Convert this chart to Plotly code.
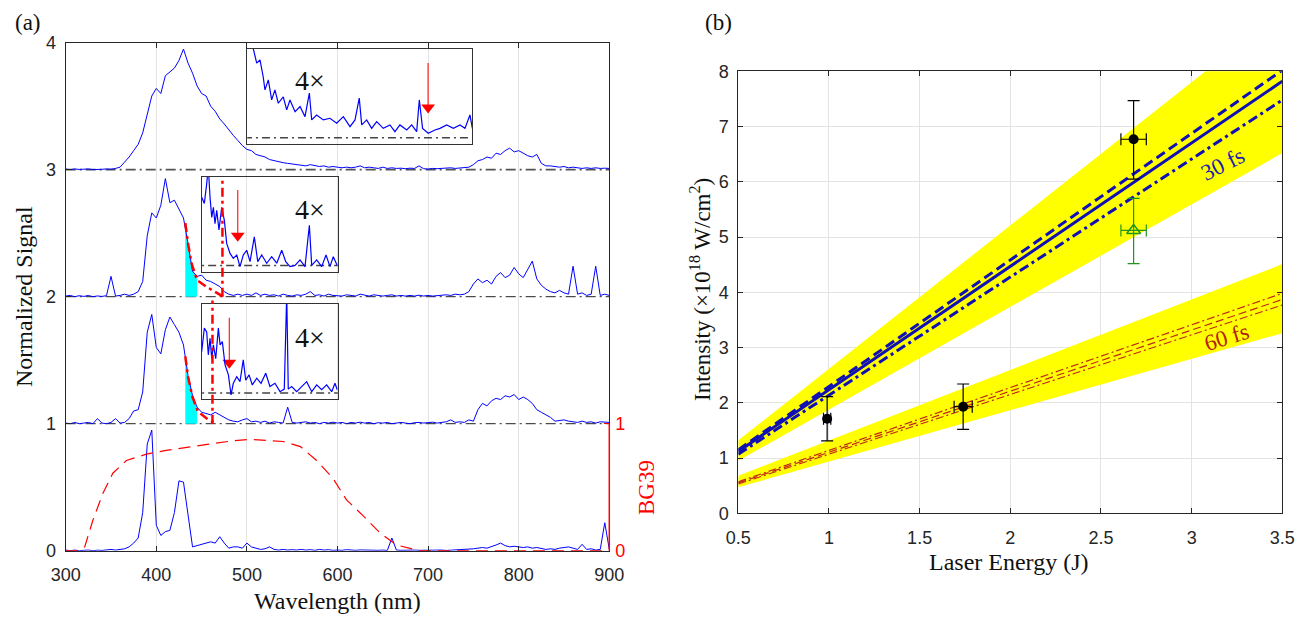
import plotly.graph_objects as go

W, H = 1298, 621

# ---------------- Panel (a) data ----------------
WAVELENGTH_NM = list(range(300, 905, 5))
SPEC_OFFSETS = [3, 2, 1, 0]

SPEC_3 = [
    0.005, 0.000, 0.006, 0.002, 0.004, 0.006, 0.001, 0.005, 0.003, 0.006,
    0.004, 0.010, 0.020, 0.060, 0.100, 0.150, 0.200, 0.290, 0.430, 0.580,
    0.640, 0.600, 0.740, 0.770, 0.800, 0.860, 0.950, 0.840, 0.760, 0.660,
    0.600, 0.580, 0.500, 0.460, 0.400, 0.360, 0.310, 0.270, 0.230, 0.190,
    0.160, 0.150, 0.120, 0.110, 0.100, 0.080, 0.070, 0.060, 0.055, 0.050,
    0.045, 0.040, 0.035, 0.030, 0.040, 0.030, 0.025, 0.030, 0.020, 0.025,
    0.020, 0.015, 0.020, 0.015, 0.020, 0.030, 0.015, 0.020, 0.015, 0.010,
    0.020, 0.010, 0.015, 0.010, 0.012, 0.008, 0.012, 0.010, 0.030, 0.008,
    0.005, 0.010, 0.008, 0.012, 0.010, 0.015, 0.010, 0.012, 0.015, 0.020,
    0.040, 0.070, 0.080, 0.100, 0.090, 0.130, 0.120, 0.150, 0.170, 0.140,
    0.150, 0.130, 0.110, 0.100, 0.120, 0.050, 0.030, 0.030, 0.025, 0.020,
    0.025, 0.015, 0.020, 0.015, 0.010, 0.015, 0.010, 0.015, 0.010, 0.012,
    0.010]
SPEC_2 = [
    0.005, 0.010, 0.000, 0.008, 0.002, 0.010, 0.000, 0.006, 0.002, 0.008,
    0.160, 0.005, 0.010, 0.020, 0.010, 0.020, 0.040, 0.120, 0.480, 0.660,
    0.620, 0.720, 0.930, 0.740, 0.760, 0.690, 0.620, 0.420, 0.200, 0.160,
    0.170, 0.130, 0.120, 0.100, 0.080, 0.040, 0.020, 0.010, 0.020, 0.010,
    0.020, 0.010, 0.030, 0.010, 0.020, 0.010, 0.015, 0.005, 0.020, 0.010,
    0.005, 0.015, 0.010, 0.020, 0.040, 0.010, 0.015, 0.005, 0.020, 0.010,
    0.010, 0.005, 0.015, 0.010, 0.005, 0.020, 0.010, 0.005, 0.015, 0.010,
    0.005, 0.010, 0.015, 0.005, 0.010, 0.005, 0.010, 0.005, 0.012, 0.005,
    0.010, 0.005, 0.008, 0.010, 0.015, 0.010, 0.020, 0.015, 0.020, 0.040,
    0.100, 0.140, 0.110, 0.130, 0.100, 0.160, 0.190, 0.150, 0.170, 0.230,
    0.180, 0.150, 0.210, 0.280, 0.140, 0.090, 0.060, 0.040, 0.030, 0.050,
    0.030, 0.020, 0.240, 0.020, 0.030, 0.010, 0.020, 0.240, 0.010, 0.020,
    0.010]
SPEC_1 = [
    0.005, 0.000, 0.010, 0.000, 0.005, 0.010, 0.000, 0.040, 0.005, 0.000,
    0.010, 0.040, 0.005, 0.010, 0.040, 0.100, 0.110, 0.250, 0.720, 0.860,
    0.600, 0.550, 0.740, 0.840, 0.780, 0.720, 0.620, 0.380, 0.220, 0.130,
    0.090, 0.080, 0.070, 0.090, 0.070, 0.050, 0.030, 0.020, 0.015, 0.030,
    0.040, 0.015, 0.020, 0.010, 0.020, 0.005, 0.015, 0.010, 0.005, 0.130,
    0.010, 0.005, 0.010, 0.015, 0.005, 0.010, 0.000, 0.010, 0.005, 0.012,
    0.005, 0.010, 0.000, 0.010, 0.005, 0.012, 0.005, 0.010, 0.000, 0.008,
    0.005, 0.010, 0.000, 0.005, 0.010, 0.005, 0.000, 0.008, 0.010, 0.005,
    0.010, 0.012, 0.005, 0.010, 0.015, 0.030, 0.010, 0.015, 0.010, 0.030,
    0.020, 0.110, 0.160, 0.140, 0.180, 0.200, 0.190, 0.220, 0.210, 0.230,
    0.190, 0.210, 0.190, 0.160, 0.110, 0.090, 0.070, 0.050, 0.020, 0.025,
    0.030, 0.020, 0.015, 0.010, 0.020, 0.010, 0.015, 0.005, 0.015, 0.010,
    0.010]
SPEC_0 = [
    0.005, 0.000, 0.005, 0.000, 0.003, 0.005, 0.000, 0.004, 0.002, 0.005,
    0.010, 0.005, 0.010, 0.015, 0.030, 0.060, 0.100, 0.300, 0.840, 0.950,
    0.200, 0.120, 0.150, 0.160, 0.300, 0.550, 0.540, 0.290, 0.030, 0.040,
    0.050, 0.060, 0.070, 0.060, 0.110, 0.060, 0.020, 0.030, 0.030, 0.020,
    0.060, 0.030, 0.020, 0.010, 0.015, 0.030, 0.010, 0.005, 0.010, 0.005,
    0.008, 0.005, 0.010, 0.005, 0.008, 0.003, 0.010, 0.005, 0.008, 0.003,
    0.005, 0.003, 0.008, 0.005, 0.003, 0.006, 0.004, 0.002, 0.005, 0.003,
    0.005, 0.002, 0.100, 0.005, 0.003, 0.005, 0.002, 0.005, 0.003, 0.004,
    0.002, 0.005, 0.003, 0.005, 0.002, 0.004, 0.006, 0.003, 0.005, 0.010,
    0.015, 0.020, 0.025, 0.020, 0.030, 0.045, 0.060, 0.040, 0.030, 0.035,
    0.030, 0.025, 0.030, 0.020, 0.025, 0.015, 0.010, 0.015, 0.010, 0.020,
    0.025, 0.030, 0.020, 0.010, 0.050, 0.010, 0.015, 0.005, 0.010, 0.220,
    0.010]
SPECTRA = [SPEC_3, SPEC_2, SPEC_1, SPEC_0]

# BG39 filter transmission (right axis)
BG39_WL = [300, 312, 321, 330, 341, 352, 367, 389, 411, 448, 485, 503, 522,
           540, 559, 577, 595, 610, 629, 647, 665, 680, 691, 900]
BG39_T = [0.0, 0.0, 0.03, 0.24, 0.45, 0.61, 0.71, 0.76, 0.79, 0.83, 0.866,
          0.877, 0.87, 0.86, 0.82, 0.71, 0.57, 0.40, 0.27, 0.14, 0.045, 0.02,
          0.0, 0.0]

# cut-off fits (red dash-dot) and shaded region (cyan)
FIT2_WL = [432, 435, 439, 445, 455, 466, 474]
FIT2 = [0.58, 0.42, 0.26, 0.13, 0.08, 0.03, 0.0]
FIT1_WL = [432, 435, 440, 446, 456, 463]
FIT1 = [0.53, 0.37, 0.21, 0.095, 0.04, 0.01]
CYAN_WL = [432, 435, 440, 445]
CYAN2_TOP = [0.57, 0.42, 0.21, 0.14]
CYAN1_TOP = [0.53, 0.37, 0.21, 0.12]
CUTOFF_WL = [473, 462]      # vertical red lines (spectrum 2, spectrum 1)
CUTOFF_TOP = [2.94, 1.97]
CUTOFF_BASE = [2, 1]

# insets (4x magnified, relative to baseline)
INSET3_WL = [500.5, 505, 510.9, 514.5, 518, 520, 523.7, 527.4, 531, 534.7, 540.2,
             544, 547.6, 553.2, 558.7, 564.2, 569, 571.6, 577, 584.4, 591.8, 599.2,
             606.5, 613.9, 619.4, 624.1, 626.8, 632.3, 637.8, 643.3, 650.6, 658,
             663.5, 669, 676.5, 682, 687.5, 690.4, 694, 700.3, 707.7, 713.2, 720.6,
             728, 735.3, 740.8, 746.3, 749]
INSET3_Y = [0.78, 0.76, 0.585, 0.61, 0.48, 0.375, 0.454, 0.296, 0.375, 0.27, 0.32,
            0.218, 0.296, 0.204, 0.244, 0.165, 0.35, 0.139, 0.178, 0.139, 0.152,
            0.113, 0.165, 0.086, 0.139, 0.31, 0.10, 0.139, 0.073, 0.126, 0.073,
            0.10, 0.047, 0.10, 0.06, 0.10, 0.047, 0.296, 0.073, 0.034, 0.06, 0.073,
            0.10, 0.073, 0.10, 0.073, 0.178, 0.073]
INSET2_WL = [450.1, 453, 455.6, 457.4, 459.3, 461.2, 463, 464.8, 466.7, 469.2,
             472.2, 475.1, 477.7, 481.4, 485, 488.8, 492.4, 496, 499.8, 503.5,
             508.2, 512, 516.4, 521.9, 527.4, 533, 538.5, 542.9, 547.6, 553.2,
             558.7, 564.2, 569, 571.6, 577.1, 582.6, 587.4, 591.8, 595.4, 599.8]
INSET2_Y = [0.54, 0.49, 0.646, 0.78, 0.54, 0.38, 0.46, 0.33, 0.436, 0.28, 0.46,
            0.357, 0.174, 0.095, 0.056, 0.082, -0.01, 0.082, 0.12, 0.03, 0.226,
            0.03, 0.082, 0.017, 0.069, 0.017, 0.12, 0.03, -0.01, 0.0, 0.043, -0.01,
            0.318, 0.0, 0.043, -0.01, 0.082, -0.01, 0.069, 0.0]
INSET1_WL = [450.1, 453, 455.6, 457.4, 459.3, 461.2, 463, 465.6, 468.5, 470.4,
             472.9, 475.9, 479.6, 482.5, 485, 488.8, 492.4, 496, 498.7, 502.4, 506,
             510.9, 515.6, 520.8, 525.5, 531, 536.6, 541.3, 544, 545.7, 549.5, 555,
             560.5, 566, 571.6, 577.1, 582.6, 588.1, 593.7, 597.3, 599.8]
INSET1_Y = [0.325, 0.51, 0.48, 0.30, 0.43, 0.27, 0.378, 0.27, 0.51, 0.378, 0.404,
            0.22, 0.142, -0.016, 0.076, 0.128, 0.089, 0.26, 0.10, 0.142, 0.063,
            0.116, 0.076, 0.155, 0.05, 0.076, 0.01, 0.03, 0.78, 0.03, 0.05, 0.01,
            0.05, 0.089, 0.01, 0.063, 0.025, 0.063, 0.01, 0.076, 0.025]
ARROW_WL = [700, 489.9, 480.6]
ARROW_TAIL = [3.84, 2.84, 1.835]
ARROW_TIP = [3.45, 2.44, 1.44]

# ---------------- Panel (b) data ----------------
E_FIT = [0.5, 3.5]
I30_UP = [1.15, 8.02]
I30_MID = [1.12, 7.82]
I30_LO = [1.07, 7.48]
I30_BAND_LO = [0.95, 6.52]
I30_BAND_HI = [1.32, 9.10]
I60_UP = [0.57, 3.98]
I60_MID = [0.55, 3.87]
I60_LO = [0.53, 3.77]
I60_BAND_LO = [0.47, 3.26]
I60_BAND_HI = [0.68, 4.51]

PT_E = [0.99, 1.74, 2.68]
PT_I = [1.71, 1.93, 6.77]
PT_I_PLUS = [0.40, 0.41, 0.70]
PT_I_MINUS = [0.40, 0.41, 0.72]
PT_E_ERR = [0.02, 0.05, 0.07]
TRI_E = [2.68]
TRI_I = [5.12]
TRI_I_PLUS = [0.58]
TRI_I_MINUS = [0.60]
TRI_E_ERR = [0.07]

# ---------------- figure ----------------
SANS = "Liberation Sans, Arial, sans-serif"
SERIF = "Liberation Serif, Times New Roman, serif"
AX = "#262626"
BLUE = "#0000FF"
DB = "#1010B4"
DR = "#C0281A"
PX_PER_UNIT_A = 127.0   # main panel (a) pixels per signal unit

fig = go.Figure()

# baselines
for off, col, w in [(3, "#555555", 1.8), (2, "#222222", 1.0), (1, "#222222", 1.0)]:
    fig.add_trace(go.Scatter(x=[300, 900], y=[off, off], mode="lines",
                             line=dict(color=col, width=w, dash="10px,4px,2px,4px"),
                             xaxis="x", yaxis="y", hoverinfo="skip"))

# cyan shaded regions
for top, off in [(CYAN2_TOP, 2), (CYAN1_TOP, 1)]:
    xs = [CYAN_WL[0]] + CYAN_WL + [CYAN_WL[-1]]
    ys = [off] + [v + off for v in top] + [off]
    fig.add_trace(go.Scatter(x=xs, y=ys, mode="lines", fill="toself",
                             fillcolor="#00FFFF", line=dict(width=0),
                             xaxis="x", yaxis="y", hoverinfo="skip"))

# spectra
for spec, off in zip(SPECTRA, SPEC_OFFSETS):
    fig.add_trace(go.Scatter(x=WAVELENGTH_NM, y=[v + off for v in spec], mode="lines",
                             line=dict(color=BLUE, width=1),
                             xaxis="x", yaxis="y", hoverinfo="skip"))

# fits
for fx, fy, off in [(FIT2_WL, FIT2, 2), (FIT1_WL, FIT1, 1)]:
    fig.add_trace(go.Scatter(x=fx, y=[v + off for v in fy], mode="lines",
                             line=dict(color="#FF0000", width=2.5, dash="9px,4px,3px,4px"),
                             xaxis="x", yaxis="y", hoverinfo="skip"))

# BG39 on right axis
fig.add_trace(go.Scatter(x=BG39_WL, y=BG39_T, mode="lines",
                         line=dict(color="#FF0000", width=1.2, dash="12px,7px"),
                         xaxis="x", yaxis="y2", hoverinfo="skip"))

# insets
for wl, yy, ax_id in [(INSET3_WL, INSET3_Y, "4"), (INSET2_WL, INSET2_Y, "5"),
                      (INSET1_WL, INSET1_Y, "6")]:
    fig.add_trace(go.Scatter(x=[0, 1000], y=[0, 0], mode="lines",
                             line=dict(color="#444444", width=1.5, dash="8px,4px,2px,4px"),
                             xaxis="x" + ax_id, yaxis="y" + ax_id, hoverinfo="skip"))
    fig.add_trace(go.Scatter(x=wl, y=yy, mode="lines", line=dict(color=BLUE, width=1.2),
                             xaxis="x" + ax_id, yaxis="y" + ax_id, hoverinfo="skip"))

# red arrows (shaft + triangular head)
for xw, tail, tip in zip(ARROW_WL, ARROW_TAIL, ARROW_TIP):
    fig.add_trace(go.Scatter(x=[xw, xw], y=[tail, tip + 6 / PX_PER_UNIT_A], mode="lines",
                             line=dict(color="#FF2020", width=1.2),
                             xaxis="x", yaxis="y", hoverinfo="skip"))
    fig.add_trace(go.Scatter(x=[xw], y=[tip + 5 / PX_PER_UNIT_A], mode="markers",
                             marker=dict(symbol="triangle-down", size=12, color="#FF0000",
                                         line=dict(width=0)),
                             xaxis="x", yaxis="y", hoverinfo="skip"))

# ---- panel (b) ----
def band(lo, hi):
    return go.Scatter(x=E_FIT + E_FIT[::-1], y=lo + hi[::-1], mode="lines", fill="toself",
                      fillcolor="#FFFF00", line=dict(width=0), xaxis="x3", yaxis="y3",
                      hoverinfo="skip")

fig.add_trace(band(I30_BAND_LO, I30_BAND_HI))
fig.add_trace(band(I60_BAND_LO, I60_BAND_HI))
for yy, dash in [(I30_UP, "10px,5px"), (I30_MID, "solid"), (I30_LO, "10px,4px,3px,4px")]:
    fig.add_trace(go.Scatter(x=E_FIT, y=yy, mode="lines", line=dict(color=DB, width=3, dash=dash),
                             xaxis="x3", yaxis="y3", hoverinfo="skip"))
for yy, dash in [(I60_UP, "8px,3px,2px,3px"), (I60_MID, "8px,4px"), (I60_LO, "8px,3px,2px,3px")]:
    fig.add_trace(go.Scatter(x=E_FIT, y=yy, mode="lines", line=dict(color=DR, width=1.2, dash=dash),
                             xaxis="x3", yaxis="y3", hoverinfo="skip"))

fig.add_trace(go.Scatter(
    x=PT_E, y=PT_I, mode="markers",
    marker=dict(color="black", size=10, symbol="circle"),
    error_y=dict(type="data", symmetric=False, array=PT_I_PLUS, arrayminus=PT_I_MINUS,
                 color="black", thickness=1.2, width=6),
    error_x=dict(type="data", array=PT_E_ERR, color="black", thickness=1.2, width=6),
    xaxis="x3", yaxis="y3", hoverinfo="skip"))
fig.add_trace(go.Scatter(
    x=TRI_E, y=TRI_I, mode="markers",
    marker=dict(color="#1E961E", size=12, symbol="triangle-up-open", line=dict(width=1.5)),
    error_y=dict(type="data", symmetric=False, array=TRI_I_PLUS, arrayminus=TRI_I_MINUS,
                 color="#1E961E", thickness=1.2, width=6),
    error_x=dict(type="data", array=TRI_E_ERR, color="#1E961E", thickness=1.2, width=6),
    xaxis="x3", yaxis="y3", hoverinfo="skip"))


def dom_x(p0, p1):
    return [p0 / W, p1 / W]


def dom_y(top_px, bot_px):
    return [1 - bot_px / H, 1 - top_px / H]


tickfont = dict(family=SANS, size=18, color=AX)

inset_ax = dict(showline=True, mirror=True, linecolor="#333333", linewidth=1.2,
                showticklabels=False, ticks="", showgrid=False, zeroline=False,
                automargin=False)

fig.update_layout(
    template="none",
    width=W, height=H, margin=dict(l=0, r=0, t=0, b=0, pad=0, autoexpand=False),
    paper_bgcolor="white", plot_bgcolor="rgba(0,0,0,0)", showlegend=False,
    xaxis=dict(domain=dom_x(65.7, 609.3), range=[300, 900], tickvals=list(range(300, 901, 100)),
               ticks="inside", ticklen=5, tickcolor=AX, mirror="ticks", showline=True,
               linecolor=AX, linewidth=1, showgrid=True, gridcolor="#E3E3E3",
               zeroline=False, tickfont=tickfont, ticklabelstandoff=8, anchor="y",
               automargin=False),
    yaxis=dict(domain=dom_y(42.7, 550.7), range=[0, 4], tickvals=[0, 1, 2, 3, 4],
               ticks="inside", ticklen=5, tickcolor=AX, showline=True, mirror=True,
               linecolor=AX, linewidth=1, showgrid=False, zeroline=False,
               tickfont=tickfont, ticklabelstandoff=5, anchor="x", automargin=False),
    yaxis2=dict(overlaying="y", side="right", range=[0, 4], tickvals=[0, 1],
                ticks="inside", ticklen=5, tickcolor="#FF0000", showline=False,
                showgrid=False, zeroline=False, anchor="x", ticklabelstandoff=5,
                tickfont=dict(family=SANS, size=18, color="#FF0000"), automargin=False),
    xaxis3=dict(domain=dom_x(738.3, 1282.3), range=[0.5, 3.5],
                tickvals=[0.5, 1, 1.5, 2, 2.5, 3, 3.5],
                ticktext=["0.5", "1", "1.5", "2", "2.5", "3", "3.5"],
                ticks="inside", ticklen=5, tickcolor=AX, mirror="ticks", showline=True,
                linecolor=AX, linewidth=1, showgrid=True, gridcolor="#E3E3E3",
                zeroline=False, tickfont=tickfont, ticklabelstandoff=8, anchor="y3",
                automargin=False),
    yaxis3=dict(domain=dom_y(71.3, 513.3), range=[0, 8], tickvals=list(range(0, 9)),
                ticks="inside", ticklen=5, tickcolor=AX, mirror="ticks", showline=True,
                linecolor=AX, linewidth=1, showgrid=True, gridcolor="#E3E3E3",
                zeroline=False, tickfont=tickfont, ticklabelstandoff=5, anchor="x3",
                automargin=False),
    xaxis4=dict(domain=dom_x(247.3, 472.3), range=[500.5, 748.9], anchor="y4", **inset_ax),
    yaxis4=dict(domain=dom_y(48.5, 144), range=[-0.05, 0.70], anchor="x4", **inset_ax),
    xaxis5=dict(domain=dom_x(201.7, 337.7), range=[450.1, 600.3], anchor="y5", **inset_ax),
    yaxis5=dict(domain=dom_y(177, 271.7), range=[-0.05, 0.70], anchor="x5", **inset_ax),
    xaxis6=dict(domain=dom_x(201.7, 337.7), range=[450.1, 600.3], anchor="y6", **inset_ax),
    yaxis6=dict(domain=dom_y(304, 399.3), range=[-0.05, 0.70], anchor="x6", **inset_ax),
)

shapes = []
for xw, top, base in zip(CUTOFF_WL, CUTOFF_TOP, CUTOFF_BASE):
    shapes.append(dict(type="line", xref="x", yref="y", x0=xw, x1=xw, y0=base, y1=top,
                       line=dict(color="#FF0000", width=2.5, dash="9px,4px,3px,4px")))
shapes.append(dict(type="line", xref="paper", yref="y", x0=609.3 / W, x1=609.3 / W,
                   y0=0, y1=1, line=dict(color="#FF0000", width=1.5)))
fig.update_layout(shapes=shapes)

ann = []


def txt(px, py, text, size, color="#111111", family=SERIF, angle=0):
    ann.append(dict(x=px / W, y=1 - py / H, xref="paper", yref="paper", text=text,
                    showarrow=False, xanchor="center", yanchor="middle", textangle=angle,
                    font=dict(family=family, size=size, color=color)))


txt(28, 23, "(a)", 23)
txt(718, 22, "(b)", 23)
txt(24, 297, "Normalized Signal", 24, angle=-90)
txt(337, 601, "Wavelength (nm)", 24)
txt(646, 488, "BG39", 23, color="#FF0000", angle=-90)
txt(700, 290, "Intensity (×10<sup>18</sup> W/cm<sup>2</sup>)", 23, angle=-90)
txt(1009, 562, "Laser Energy (J)", 24)
txt(310, 80, "4×", 28)
txt(310, 210, "4×", 28)
txt(310, 337, "4×", 28)

ann.append(dict(x=3.17, y=6.32, xref="x3", yref="y3", text="30 fs", showarrow=False,
                textangle=-27, font=dict(family=SERIF, size=23, color="#1A1AB0")))
ann.append(dict(x=3.19, y=3.18, xref="x3", yref="y3", text="60 fs", showarrow=False,
                textangle=-17, font=dict(family=SERIF, size=23, color="#B22010")))
fig.update_layout(annotations=ann)

fig.write_html("out.html")
